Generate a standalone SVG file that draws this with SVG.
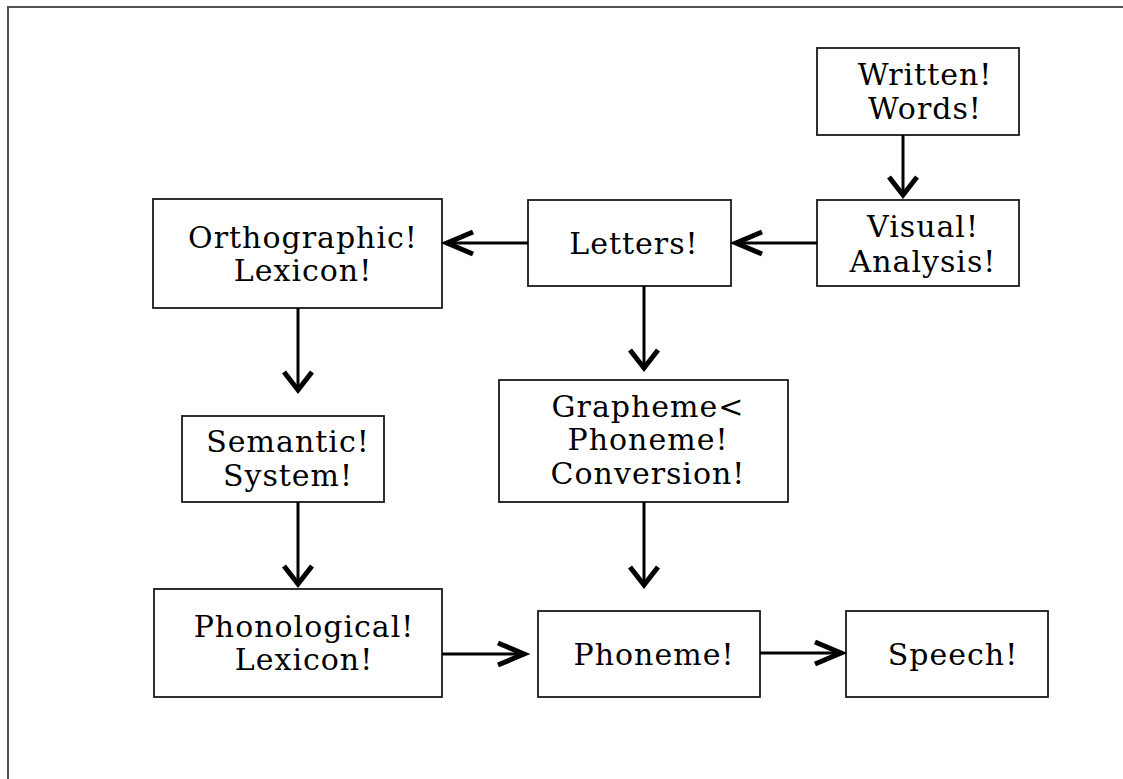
<svg xmlns="http://www.w3.org/2000/svg" width="1123" height="779" viewBox="0 0 1123 779">
<style>
.box{fill:#fff;stroke:#1a1a1a;stroke-width:1.8}
.t{font-family:"DejaVu Serif","Liberation Serif",serif;font-size:30px;letter-spacing:1px;text-anchor:middle;fill:#000}
.line{stroke:#000;stroke-width:3;fill:none}
.head{stroke:#000;stroke-width:5;fill:none;stroke-linejoin:miter}
.frame{stroke:#555;stroke-width:2;fill:none}
</style>
<rect width="1123" height="779" fill="#fff"/>
<path class="frame" d="M8,779 V7 H1123"/>
<g id="n-written"><rect class="box" x="817" y="48" width="202" height="87"/><text class="t" x="925" y="85">Written!</text><text class="t" x="925" y="119">Words!</text></g>
<g id="n-visual"><rect class="box" x="817" y="200" width="202" height="86"/><text class="t" x="923" y="237">Visual!</text><text class="t" x="923" y="272">Analysis!</text></g>
<g id="n-letters"><rect class="box" x="528" y="200" width="203" height="86"/><text class="t" x="634" y="254">Letters!</text></g>
<g id="n-ortho"><rect class="box" x="153" y="199" width="289" height="109"/><text class="t" x="303" y="248">Orthographic!</text><text class="t" x="303" y="281">Lexicon!</text></g>
<g id="n-semantic"><rect class="box" x="182" y="416" width="202" height="86"/><text class="t" x="288" y="452">Semantic!</text><text class="t" x="288" y="486">System!</text></g>
<g id="n-gpc"><rect class="box" x="499" y="380" width="289" height="122"/><text class="t" x="648" y="417">Grapheme&lt;</text><text class="t" x="648" y="450">Phoneme!</text><text class="t" x="648" y="484">Conversion!</text></g>
<g id="n-phono"><rect class="box" x="154" y="589" width="288" height="108"/><text class="t" x="304" y="637">Phonological!</text><text class="t" x="304" y="670">Lexicon!</text></g>
<g id="n-phoneme"><rect class="box" x="538" y="611" width="222" height="86"/><text class="t" x="654" y="665">Phoneme!</text></g>
<g id="n-speech"><rect class="box" x="846" y="611" width="202" height="86"/><text class="t" x="953" y="665">Speech!</text></g>
<g id="connectors">
<path class="line" d="M903,135 V195"/><path class="head" d="M889,177 L903,195 L917,177"/>
<path class="line" d="M817,243 H736"/><path class="head" d="M762,232 L736,243 L762,254"/>
<path class="line" d="M528,243 H447"/><path class="head" d="M473,232 L447,243 L473,254"/>
<path class="line" d="M644,286 V368"/><path class="head" d="M630,350 L644,368 L658,350"/>
<path class="line" d="M298,308 V390"/><path class="head" d="M284,372 L298,390 L312,372"/>
<path class="line" d="M298,502 V584"/><path class="head" d="M284,566 L298,584 L312,566"/>
<path class="line" d="M644,502 V585"/><path class="head" d="M630,567 L644,585 L658,567"/>
<path class="line" d="M442,654 H524"/><path class="head" d="M498,643 L524,654 L498,665"/>
<path class="line" d="M760,653 H841"/><path class="head" d="M815,642 L841,653 L815,664"/>
</g>
</svg>
